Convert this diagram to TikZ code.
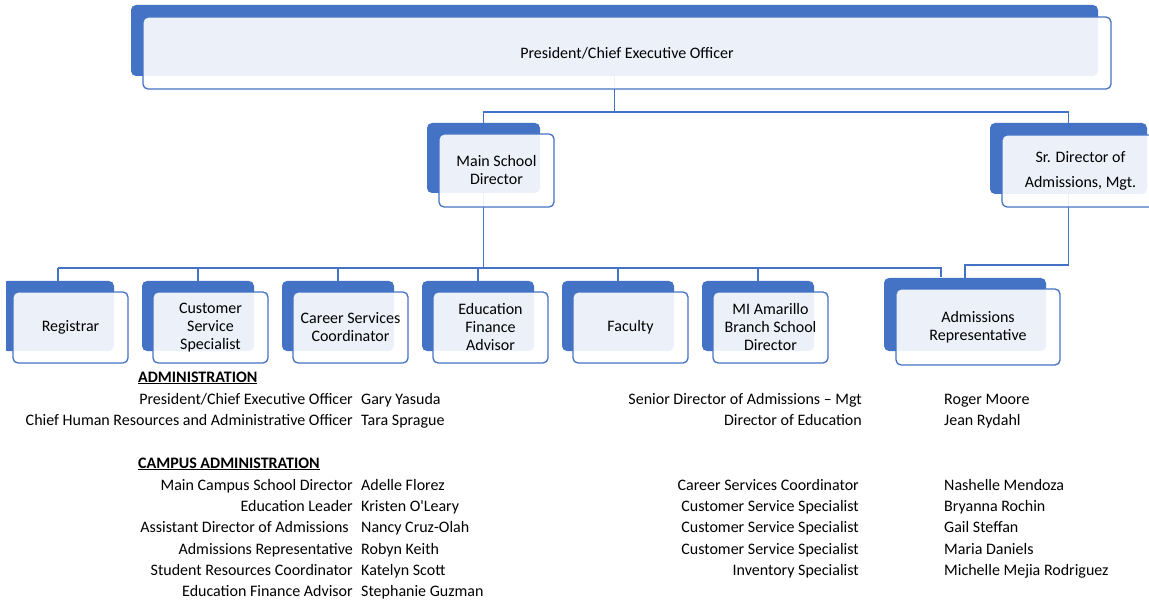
\documentclass[tikz,border=0pt]{standalone}
\usepackage{fontspec}
\setmainfont{Carlito}
\definecolor{myblue}{RGB}{68,114,196}
\begin{document}
\begin{tikzpicture}[x=1pt,y=-1pt,
  backbox/.style={fill=myblue, rounded corners=5pt, inner sep=0pt, draw=none},
  frontbox/.style={draw=myblue, line width=1.3pt, fill=white, fill opacity=0.9, text opacity=1, rounded corners=5pt, inner sep=0pt, align=center, font=\fontsize{16}{18}\selectfont},
  conn/.style={draw=myblue, line width=1.6pt},
  lbl/.style={anchor=base east, inner sep=0pt, font=\fontsize{16}{19}\selectfont},
  nm/.style={anchor=base west, inner sep=0pt, font=\fontsize{16}{19}\selectfont},
  hd/.style={anchor=base west, inner sep=0pt, font=\fontsize{16}{19}\selectfont\bfseries}]
\useasboundingbox (0,0) rectangle (1149,604);
\fill[white] (0,0) rectangle (1149,604);
\clip (0,0) rectangle (1149,604);

% back boxes
\node[backbox, minimum width=967pt, minimum height=71pt] (topB) at (614.5,40.5) {};
\node[backbox, minimum width=113pt, minimum height=70pt] (mainB) at (483.5,158) {};
\node[backbox, minimum width=157pt, minimum height=71pt] (srB) at (1068.5,158.5) {};
\begin{scope}
  \clip (6,270) rectangle (130,370);
  \node[backbox, minimum width=112pt, minimum height=70pt] (b0) at (58,316) {};
\end{scope}
\node[backbox, minimum width=112pt, minimum height=70pt] (b1) at (198,316) {};
\node[backbox, minimum width=112pt, minimum height=70pt] (b2) at (338,316) {};
\node[backbox, minimum width=112pt, minimum height=70pt] (b3) at (478,316) {};
\node[backbox, minimum width=112pt, minimum height=70pt] (b4) at (618,316) {};
\node[backbox, minimum width=112pt, minimum height=70pt] (b5) at (758,316) {};
\node[backbox, minimum width=162pt, minimum height=73pt] (admB) at (965,314.5) {};

% connectors
\coordinate (j1) at (614.5,112);
\coordinate (j2) at (483.5,268);
\coordinate (hl) at (58,268);
\coordinate (hr) at (941,268);
\coordinate (a1) at (941,277);
\coordinate (j3) at (1068.5,265);
\draw[conn] (topB.south) -- (j1);
\draw[conn] (mainB.north) |- (j1) -| (srB.north);
\draw[conn] (mainB.south) -- (j2);
\draw[conn] (hl) -- (hr) -- (a1);
\draw[conn] (b0.north) -- (hl);
\draw[conn] (b1.north) -- (b1.north |- hl);
\draw[conn] (b2.north) -- (b2.north |- hl);
\draw[conn] (b3.north) -- (b3.north |- hl);
\draw[conn] (b4.north) -- (b4.north |- hl);
\draw[conn] (b5.north) -- (b5.north |- hl);
\draw[conn] (srB.south) -- (j3) -| (admB.north);

% front boxes
\node[frontbox, minimum width=968pt, minimum height=72pt] (topF) at (627,53) {President/Chief Executive Officer};
\node[frontbox, minimum width=115pt, minimum height=73pt] (mainF) at (496.5,170.5) {Main School\\Director};
\node[frontbox, minimum width=157pt, minimum height=72pt, font=\fontsize{16}{25}\selectfont] (srF) at (1080.5,171) {Sr. Director of\\Admissions, Mgt.};
\node[frontbox, minimum width=115pt, minimum height=71pt] (f0) at (70.5,327.5) {Registrar};
\node[frontbox, minimum width=115pt, minimum height=71pt] (f1) at (210.5,327.5) {Customer\\Service\\Specialist};
\node[frontbox, minimum width=115pt, minimum height=71pt] (f2) at (350.5,327.5) {Career Services\\Coordinator};
\node[frontbox, minimum width=115pt, minimum height=71pt] (f3) at (490.5,327.5) {Education\\Finance\\Advisor};
\node[frontbox, minimum width=115pt, minimum height=71pt] (f4) at (630.5,327.5) {Faculty};
\node[frontbox, minimum width=115pt, minimum height=71pt] (f5) at (770.5,327.5) {MI Amarillo\\Branch School\\Director};
\node[frontbox, minimum width=164pt, minimum height=76pt] (admF) at (978,327) {Admissions\\Representative};

% text lists
\node[hd] (h1) at (138,382) {\underline{ADMINISTRATION}};
\node[lbl] (l1) at (353,404) {President/Chief Executive Officer};
\node[nm] (n1) at (361,404) {Gary Yasuda};
\node[lbl] (l2) at (353,425) {Chief Human Resources and Administrative Officer};
\node[nm] (n2) at (361,425) {Tara Sprague};
\node[hd] (h2) at (138,468) {\underline{CAMPUS ADMINISTRATION}};
\node[lbl] (l3) at (353,490) {Main Campus School Director};
\node[nm] (n3) at (361,490) {Adelle Florez};
\node[lbl] (l4) at (353,511) {Education Leader};
\node[nm] (n4) at (361,511) {Kristen O\textquotesingle Leary};
\node[lbl] (l5) at (349,532) {Assistant Director of Admissions};
\node[nm] (n5) at (361,532) {Nancy Cruz-Olah};
\node[lbl] (l6) at (353,554) {Admissions Representative};
\node[nm] (n6) at (361,554) {Robyn Keith};
\node[lbl] (l7) at (353,575) {Student Resources Coordinator};
\node[nm] (n7) at (361,575) {Katelyn Scott};
\node[lbl] (l8) at (353,596) {Education Finance Advisor};
\node[nm] (n8) at (361,596) {Stephanie Guzman};

\node[lbl] (r1) at (862,404) {Senior Director of Admissions -- Mgt};
\node[nm] (m1) at (944,404) {Roger Moore};
\node[lbl] (r2) at (862,425) {Director of Education};
\node[nm] (m2) at (944,425) {Jean Rydahl};
\node[lbl] (r3) at (859,490) {Career Services Coordinator};
\node[nm] (m3) at (944,490) {Nashelle Mendoza};
\node[lbl] (r4) at (859,511) {Customer Service Specialist};
\node[nm] (m4) at (944,511) {Bryanna Rochin};
\node[lbl] (r5) at (859,532) {Customer Service Specialist};
\node[nm] (m5) at (944,532) {Gail Steffan};
\node[lbl] (r6) at (859,554) {Customer Service Specialist};
\node[nm] (m6) at (944,554) {Maria Daniels};
\node[lbl] (r7) at (859,575) {Inventory Specialist};
\node[nm] (m7) at (944,575) {Michelle Mejia Rodriguez};
\end{tikzpicture}
\end{document}
